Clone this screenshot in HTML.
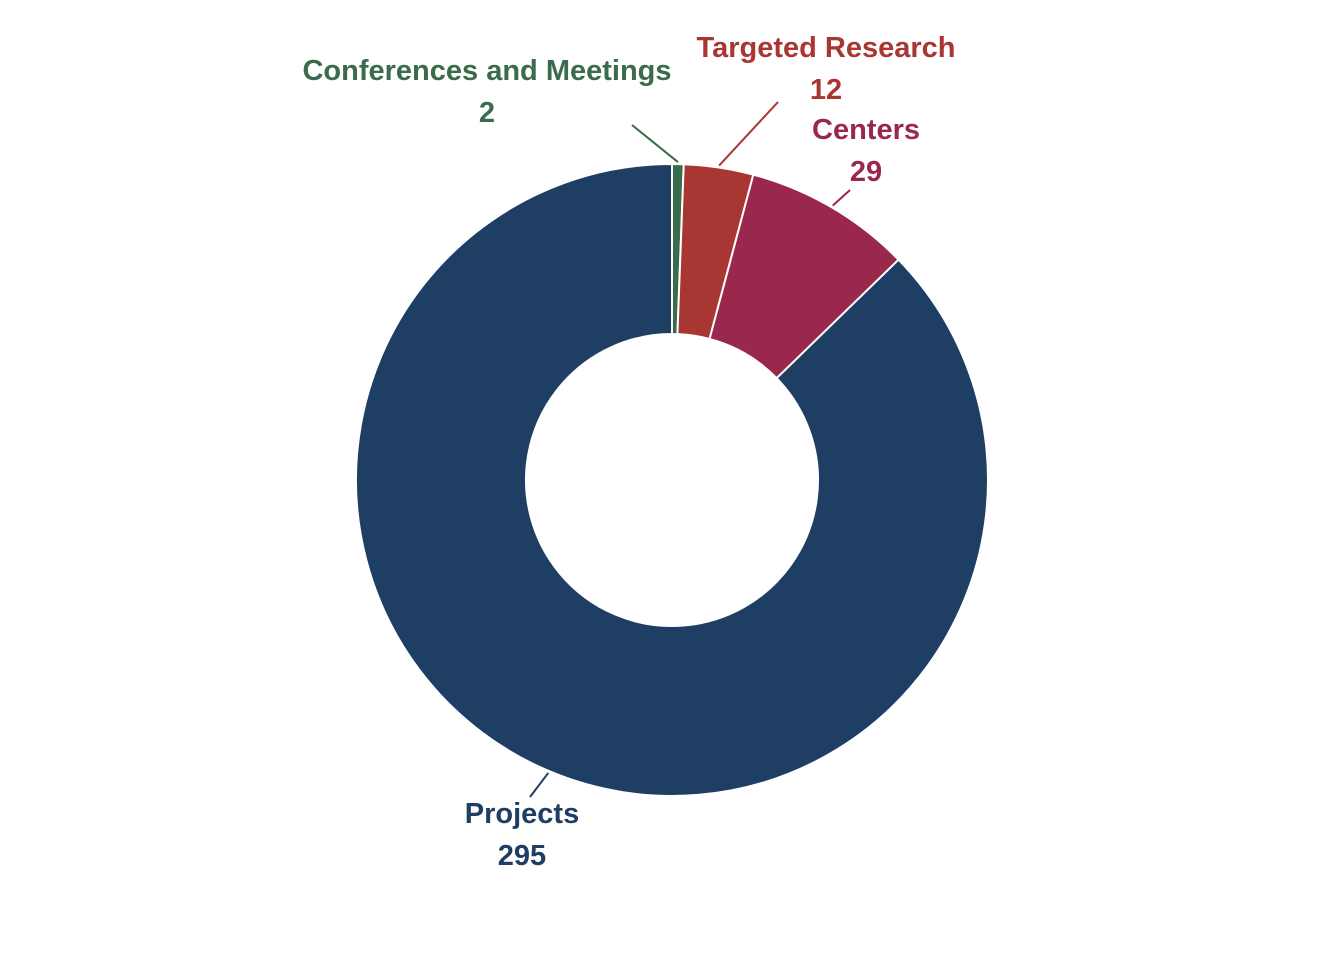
<!DOCTYPE html>
<html><head><meta charset="utf-8"><style>
html,body{margin:0;padding:0;background:#fff;}
svg{display:block;}
text{font-family:"Liberation Sans",sans-serif;font-weight:bold;font-size:29px;text-anchor:middle;}
</style></head><body>
<svg id="chart" width="1344" height="960"></svg>
<script>
const categories = ["Conferences and Meetings","Targeted Research","Centers","Projects"];
const values = [2,12,29,295];
const colors = ["#3a6b4a","#a83632","#9a284c","#1e3e63"];
const labelPos = [[487,70],[826,47],[866,129],[522,813]];
const leaderEnd = [[632,125],[778,102],[850,190],[530,797]];
const cx=672, cy=480, R=316, r=146;
const svg=document.getElementById('chart');
const NS='http://www.w3.org/2000/svg';
const total=values.reduce((a,b)=>a+b,0);
function pt(a,rad){return [cx+rad*Math.sin(a), cy-rad*Math.cos(a)];}
let a0=0;
values.forEach((v,i)=>{
  const a1=a0+v/total*2*Math.PI;
  const large=(a1-a0)>Math.PI?1:0;
  const p1=pt(a0,R),p2=pt(a1,R),p3=pt(a1,r),p4=pt(a0,r);
  const path=document.createElementNS(NS,'path');
  path.setAttribute('d',`M${p1[0]},${p1[1]} A${R},${R} 0 ${large} 1 ${p2[0]},${p2[1]} L${p3[0]},${p3[1]} A${r},${r} 0 ${large} 0 ${p4[0]},${p4[1]} Z`);
  path.setAttribute('fill',colors[i]);
  path.setAttribute('stroke','#fff');
  path.setAttribute('stroke-width','2');
  
  
  svg.appendChild(path);
  const am=(a0+a1)/2;
  const s=pt(am,R+2);
  const ln=document.createElementNS(NS,'line');
  ln.setAttribute('x1',s[0]);ln.setAttribute('y1',s[1]);
  ln.setAttribute('x2',leaderEnd[i][0]);ln.setAttribute('y2',leaderEnd[i][1]);
  ln.setAttribute('stroke',colors[i]);ln.setAttribute('stroke-width','2');
  
  
  svg.appendChild(ln);
  const t1=document.createElementNS(NS,'text');
  t1.setAttribute('x',labelPos[i][0]);t1.setAttribute('y',labelPos[i][1]+10);
  t1.setAttribute('fill',colors[i]);t1.textContent=categories[i];
  
  
  svg.appendChild(t1);
  const t2=document.createElementNS(NS,'text');
  t2.setAttribute('x',labelPos[i][0]);t2.setAttribute('y',labelPos[i][1]+52);
  t2.setAttribute('fill',colors[i]);t2.textContent=String(v);
  
  
  svg.appendChild(t2);
  a0=a1;
});
</script>
</body></html>
